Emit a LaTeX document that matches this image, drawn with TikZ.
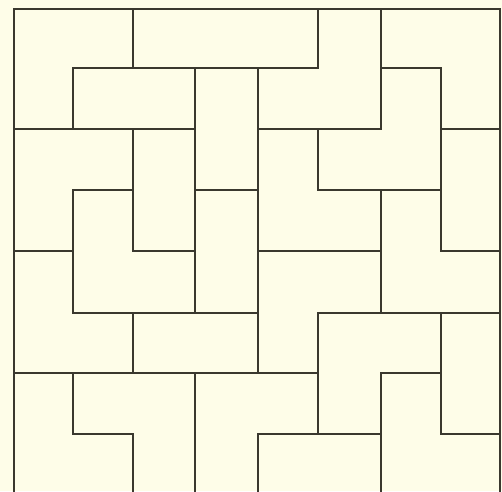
\documentclass[tikz,border=0pt]{standalone}
\definecolor{paper}{RGB}{254,253,232}
\definecolor{ink}{RGB}{58,56,46}
\begin{document}
\begin{tikzpicture}[x=1pt,y=-1pt,wall/.style={draw=ink,line width=2pt,line cap=rect}]
\fill[paper] (0,0) rectangle (502,491);
\useasboundingbox (0,0) rectangle (502,491);
\clip (0,0) rectangle (502,491);
% horizontal walls
\draw[wall] (14,9) -- (500,9);
\draw[wall] (73,68) -- (318,68) (381,68) -- (441,68);
\draw[wall] (14,129) -- (195,129) (258,129) -- (381,129) (441,129) -- (500,129);
\draw[wall] (73,190) -- (133,190) (195,190) -- (258,190) (318,190) -- (441,190);
\draw[wall] (14,251) -- (73,251) (133,251) -- (195,251) (258,251) -- (381,251) (441,251) -- (500,251);
\draw[wall] (73,313) -- (258,313) (318,313) -- (500,313);
\draw[wall] (14,373) -- (318,373) (381,373) -- (441,373);
\draw[wall] (73,434) -- (133,434) (258,434) -- (381,434) (441,434) -- (500,434);
% vertical walls
\draw[wall] (14,9) -- (14,495);
\draw[wall] (73,68) -- (73,129) (73,190) -- (73,313) (73,373) -- (73,434);
\draw[wall] (133,9) -- (133,68) (133,129) -- (133,251) (133,313) -- (133,373) (133,434) -- (133,495);
\draw[wall] (195,68) -- (195,313) (195,373) -- (195,495);
\draw[wall] (258,68) -- (258,373) (258,434) -- (258,495);
\draw[wall] (318,9) -- (318,68) (318,129) -- (318,190) (318,313) -- (318,434);
\draw[wall] (381,9) -- (381,129) (381,190) -- (381,313) (381,373) -- (381,495);
\draw[wall] (441,68) -- (441,251) (441,313) -- (441,434);
\draw[wall] (500,9) -- (500,495);
\end{tikzpicture}
\end{document}
